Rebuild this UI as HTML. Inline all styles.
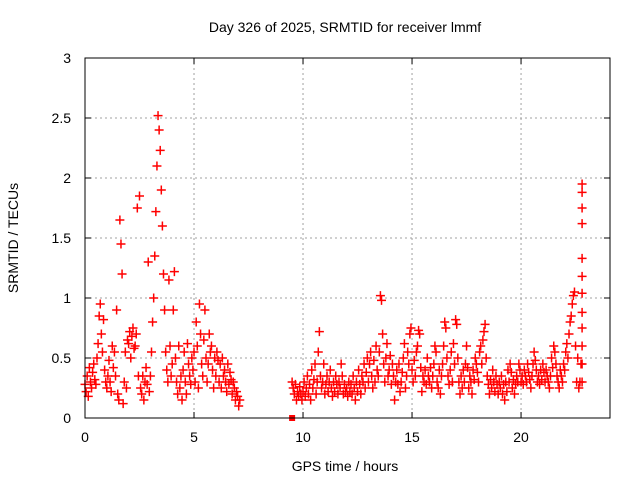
<!DOCTYPE html>
<html><head><meta charset="utf-8"><style>
html,body{margin:0;padding:0;background:#fff;}
svg{display:block;font-family:"Liberation Sans",sans-serif;}
</style></head><body>
<svg id="chart" width="640" height="480" viewBox="0 0 640 480">
<rect x="0" y="0" width="640" height="480" fill="#fff"/>
<text x="345" y="32" font-size="14" text-anchor="middle">Day 326 of 2025, SRMTID for receiver lmmf</text>
<text x="345" y="471" font-size="14" text-anchor="middle">GPS time / hours</text>
<text transform="translate(18,238) rotate(-90)" font-size="14" text-anchor="middle">SRMTID / TECUs</text>
<g id="grid"></g>
<g id="ticks"></g>
<g id="points"></g>
<rect x="85" y="58" width="525" height="360" fill="none" stroke="#000" stroke-width="1"/>
</svg>
<script>
const xTicks = [0, 5, 10, 15, 20];
const yTicks = [0, 0.5, 1, 1.5, 2, 2.5, 3];
const yTickLabels = ["0", "0.5", "1", "1.5", "2", "2.5", "3"];
const seg1Start = 0.0, seg1Step = 0.05;
const seg1Values = [0.28,0.22,0.35,0.18,0.42,0.3,0.25,0.38,0.45,0.32,0.28,0.5,0.62,0.85,0.95,0.7,0.55,0.82,0.4,0.3,
0.25,0.35,0.48,0.3,0.22,0.6,0.42,0.55,0.35,0.9,0.2,0.15,1.65,1.45,1.2,0.12,0.3,0.55,0.25,0.65,
0.62,0.72,0.5,0.68,0.75,0.58,0.6,0.7,1.75,0.35,1.85,0.25,0.2,0.35,0.15,0.3,0.42,0.28,1.3,0.22,
0.35,0.55,0.8,1.0,1.35,1.72,2.1,2.52,2.4,2.23,1.9,1.6,1.2,0.9,0.55,0.4,0.3,1.15,0.6,0.35,
0.45,0.9,1.22,0.5,0.3,0.2,0.6,0.25,0.35,0.15,0.4,0.55,0.3,0.2,0.62,0.45,0.35,0.28,0.5,0.4,
0.55,0.3,0.8,0.6,0.25,0.95,0.7,0.45,0.35,0.65,0.9,0.5,0.3,0.45,0.7,0.55,0.6,0.4,0.25,0.5,
0.35,0.55,0.48,0.3,0.45,0.25,0.5,0.35,0.4,0.3,0.22,0.45,0.28,0.38,0.32,0.2,0.3,0.25,0.15,0.22,0.18,0.1,0.15];
const seg2Start = 9.5, seg2Step = 0.05;
const seg2Values = [0.3,0.25,0.2,0.28,0.15,0.22,0.18,0.26,0.2,0.15,
0.22,0.3,0.18,0.25,0.35,0.2,0.28,0.15,0.4,0.25,0.32,0.45,0.2,0.3,0.55,0.72,0.35,0.25,0.3,0.45,
0.2,0.28,0.35,0.22,0.3,0.4,0.25,0.18,0.3,0.22,0.35,0.28,0.2,0.3,0.25,0.45,0.35,0.2,0.28,0.22,
0.25,0.18,0.3,0.22,0.28,0.2,0.35,0.25,0.15,0.3,0.22,0.4,0.28,0.2,0.35,0.3,0.45,0.25,0.38,0.5,
0.3,0.45,0.55,0.35,0.25,0.48,0.3,0.6,0.4,0.35,0.55,1.02,0.98,0.7,0.45,0.3,0.5,0.62,0.35,0.4,
0.52,0.28,0.45,0.35,0.15,0.3,0.4,0.28,0.45,0.22,0.3,0.38,0.5,0.62,0.25,0.35,0.55,0.45,0.7,0.75,
0.4,0.3,0.48,0.35,0.55,0.6,0.73,0.7,0.42,0.22,0.35,0.3,0.4,0.28,0.5,0.35,0.3,0.42,0.25,0.35,
0.45,0.6,0.55,0.3,0.25,0.4,0.2,0.35,0.45,0.6,0.8,0.75,0.5,0.35,0.28,0.4,0.55,0.3,0.62,0.45,
0.82,0.78,0.5,0.3,0.2,0.35,0.25,0.4,0.3,0.45,0.6,0.42,0.25,0.35,0.3,0.2,0.4,0.32,0.5,0.45,
0.38,0.3,0.55,0.6,0.45,0.65,0.72,0.78,0.5,0.35,0.28,0.2,0.32,0.25,0.4,0.3,0.22,0.35,0.28,0.2,
0.3,0.25,0.35,0.2,0.28,0.15,0.3,0.22,0.4,0.3,0.45,0.38,0.25,0.32,0.2,0.28,0.35,0.3,0.45,0.4,
0.3,0.35,0.28,0.4,0.35,0.3,0.45,0.38,0.32,0.25,0.35,0.45,0.55,0.48,0.4,0.3,0.35,0.28,0.4,0.32,
0.45,0.38,0.3,0.4,0.35,0.3,0.25,0.35,0.5,0.42,0.6,0.55,0.45,0.35,0.3,0.25,0.4,0.35,0.3,0.45,
0.4,0.55,0.62,0.5,0.7,0.8,0.85,0.95,1.02,1.05,0.6,0.3,0.5,0.25,0.3,0.45,1.95];
const seg3Hour = 22.8;
const seg3Values = [1.88,1.75,1.62,1.33,1.18,1.04,0.88,0.75,0.6,0.45,0.3];
const outlierHour = 9.5, outlierValue = 0.0;

const X0=85, X1=610, Y0=418, Y1=58, XMAX=24.08, YMAX=3;
const sx = h => X0 + h/XMAX*(X1-X0);
const sy = v => Y0 - v/YMAX*(Y0-Y1);
const NS="http://www.w3.org/2000/svg";
const grid=document.getElementById('grid'), ticks=document.getElementById('ticks'), pts=document.getElementById('points');
function mk(tag, attrs, parent){const e=document.createElementNS(NS,tag);for(const k in attrs)e.setAttribute(k,attrs[k]);parent.appendChild(e);return e;}
xTicks.forEach(t=>{
  const x=sx(t);
  if(t>0){const g=mk('line',{x1:x,y1:Y1,x2:x,y2:Y0,stroke:'#a0a0a0','stroke-dasharray':'2,3'},grid);
  
  }
  const tk=mk('path',{d:`M${x},${Y0}v-6M${x},${Y1}v6`,stroke:'#000'},ticks);
  
  
  const lb=mk('text',{x:x,y:Y0+24,'font-size':14,'text-anchor':'middle'},ticks);lb.textContent=t;
  
  
});
yTicks.forEach((t,i)=>{
  const y=sy(t);
  if(t>0&&t<YMAX){const g=mk('line',{x1:X0,y1:y,x2:X1,y2:y,stroke:'#a0a0a0','stroke-dasharray':'2,3'},grid);
  
  }
  const tk=mk('path',{d:`M${X0},${y}h6M${X1},${y}h-6`,stroke:'#000'},ticks);
  
  
  const lb=mk('text',{x:X0-14,y:y+5,'font-size':14,'text-anchor':'end'},ticks);lb.textContent=yTickLabels[i];
  
  
});
function plus(h,v){
  const x=sx(h), y=sy(v);
  const p=mk('path',{d:`M${x-4.5},${y}h9M${x},${y-4.5}v9`,stroke:'#ff0000','stroke-width':1.5,fill:'none'},pts);
  
  
}
seg1Values.forEach((v,i)=>plus(seg1Start+i*seg1Step,v));
seg2Values.forEach((v,i)=>plus(seg2Start+i*seg2Step,v));
seg3Values.forEach(v=>plus(seg3Hour,v));
const sq=mk('rect',{x:sx(outlierHour)-3,y:sy(outlierValue)-3,width:6,height:6,fill:'#ff0000'},pts);


</script>
</body></html>
